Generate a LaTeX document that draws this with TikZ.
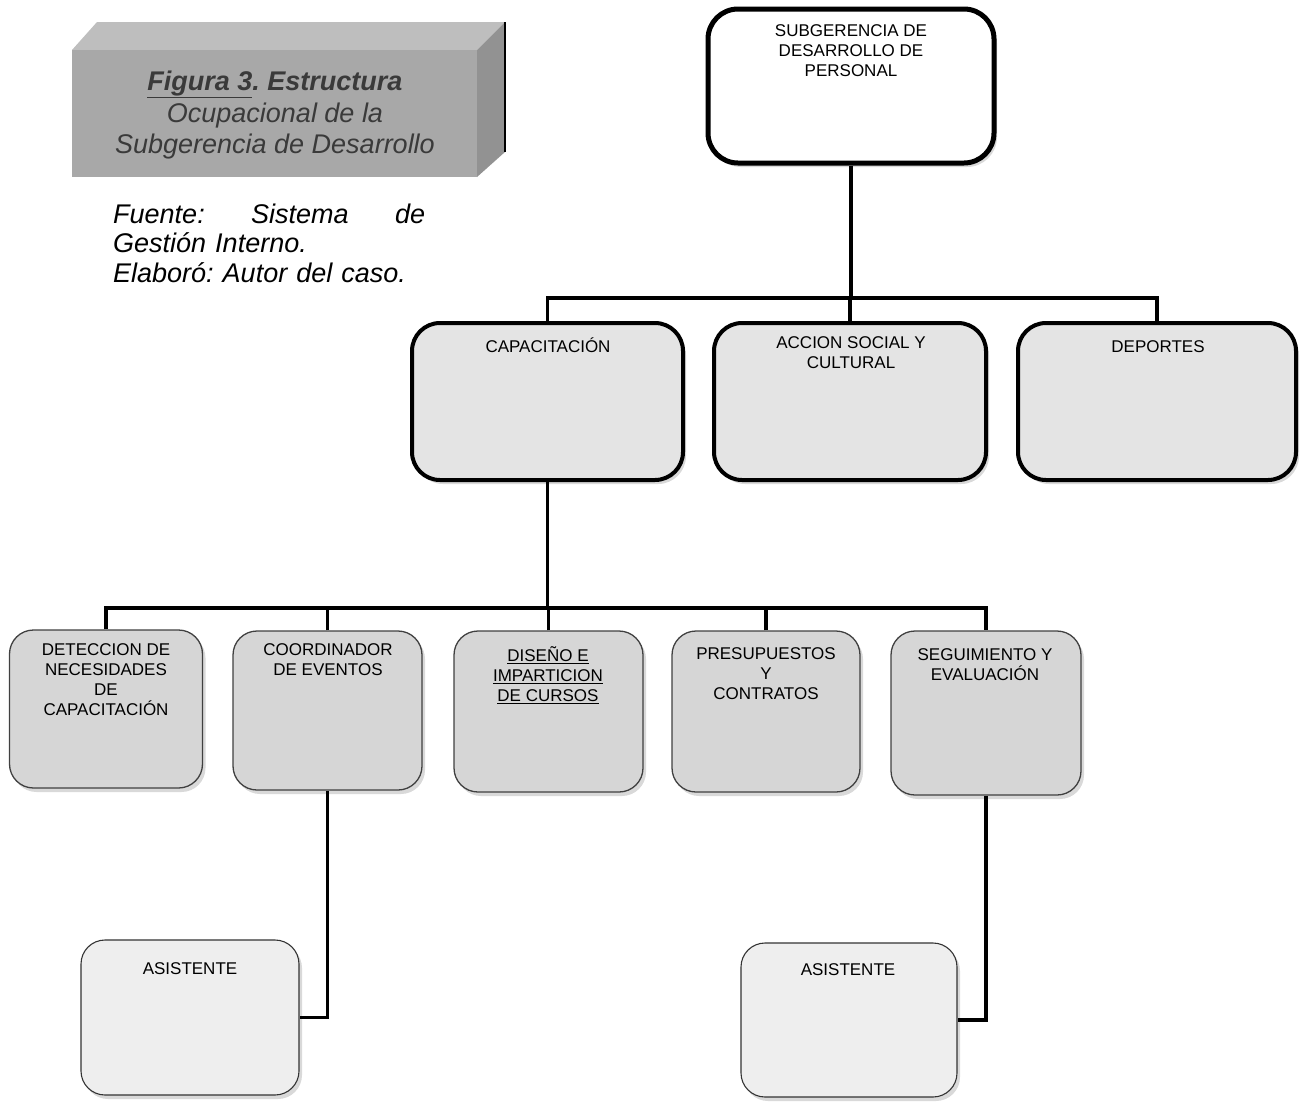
\documentclass[tikz,border=0pt]{standalone}
\usepackage{fontspec}
\setmainfont{Liberation Sans}
\usetikzlibrary{calc,shadows}
\definecolor{midgray}{HTML}{E4E4E4}
\definecolor{lowgray}{HTML}{D6D6D6}
\definecolor{asgray}{HTML}{EEEEEE}
\definecolor{frontgray}{HTML}{A8A8A8}
\definecolor{topgray}{HTML}{BEBEBE}
\definecolor{sidegray}{HTML}{929292}
\definecolor{ttltext}{HTML}{3A3A3A}
\tikzset{
  conn/.style={line width=3.5pt, black},
  lbl/.style={font=\fontsize{17}{20}\selectfont, align=center, inner sep=0pt, anchor=north,
    execute at begin node={\rule{0pt}{16pt}}},
  shad/.style={drop shadow={shadow xshift=3pt, shadow yshift=-4pt, opacity=0.3, fill=gray}},
  topbox/.style={draw, line width=5pt, rounded corners=30pt, fill=white, shad, inner sep=0pt},
  midbox/.style={draw, line width=4pt, rounded corners=28pt, fill=midgray, shad, inner sep=0pt},
  lowbox/.style={draw=black!75, line width=1.3pt, rounded corners=24pt, fill=lowgray, shad, inner sep=0pt},
  asbox/.style={draw=black!80, line width=1.1pt, rounded corners=24pt, fill=asgray, shad, inner sep=0pt},
  ttl/.style={text=ttltext, inner sep=0pt, anchor=base, font=\fontsize{27}{32}\selectfont\itshape},
}
\begin{document}
\frenchspacing
\begin{tikzpicture}[x=1pt,y=-1pt]
\useasboundingbox (0,0) rectangle (1309,1101);

% title block (3D box)
\fill[topgray] (72,50) -- (97,22) -- (505,22) -- (477,50) -- cycle;
\fill[sidegray] (477,50) -- (505,22) -- (505,152) -- (477,177) -- cycle;
\fill[frontgray] (72,50) rectangle (477,177);
\draw[line width=2pt, black] (505,22) -- (505,152);
\node[ttl] (ttl1) at (275,90) {\bfseries\underline{Figura 3}. Estructura};
\node[ttl] (ttl2) at (275,122) {Ocupacional de la};
\node[ttl] (ttl3) at (275,153) {Subgerencia de Desarrollo};

\node[anchor=north west, inner sep=0pt, text width=312pt, align=left,
      font=\fontsize{27}{29.5}\selectfont\itshape] (fte) at (113,202)
  {\noindent\rule{0pt}{21pt}Fuente:\hfill Sistema\hfill de\\Gestión Interno.\\Elaboró: Autor del caso.};

% boxes
\node[topbox, minimum width=286pt, minimum height=154pt] (sub) at (851,86) {};
\node[midbox, minimum width=271pt, minimum height=157pt] (cap) at (547.5,401.5) {};
\node[midbox, minimum width=272pt, minimum height=157pt] (acc) at (850,401.5) {};
\node[midbox, minimum width=278pt, minimum height=157pt] (dep) at (1157,401.5) {};
\node[lowbox, minimum width=193pt, minimum height=158pt] (det) at (106,709) {};
\node[lowbox, minimum width=189pt, minimum height=159pt] (coo) at (327.5,710.5) {};
\node[lowbox, minimum width=189pt, minimum height=161pt] (dis) at (548.5,711.5) {};
\node[lowbox, minimum width=188pt, minimum height=161pt] (pre) at (766,711.5) {};
\node[lowbox, minimum width=190pt, minimum height=164pt] (seg) at (986,713) {};
\node[asbox, minimum width=218pt, minimum height=155pt] (as1) at (190,1017.5) {};
\node[asbox, minimum width=216pt, minimum height=154pt] (as2) at (849,1020) {};

% labels
\node[lbl] (subL) at (851,24) {SUBGERENCIA DE\\DESARROLLO DE\\PERSONAL};
\node[lbl] (capL) at (548,336) {CAPACITACIÓN};
\node[lbl] (accL) at (851,336) {ACCION SOCIAL Y\\CULTURAL};
\node[lbl] (depL) at (1158,336) {DEPORTES};
\node[lbl] (detL) at (106,643) {DETECCION DE\\NECESIDADES\\DE\\CAPACITACIÓN};
\node[lbl] (cooL) at (328,643) {COORDINADOR\\DE EVENTOS};
\node[lbl] (disL) at (548,646) {\underline{DISEÑO E}\\\underline{IMPARTICION}\\\underline{DE CURSOS}};
\node[lbl] (preL) at (766,647) {PRESUPUESTOS\\Y\\CONTRATOS};
\node[lbl] (segL) at (985,648) {SEGUIMIENTO Y\\EVALUACIÓN};
\node[lbl] (as1L) at (190,958) {ASISTENTE};
\node[lbl] (as2L) at (848,959) {ASISTENTE};

% connectors
\coordinate (b1) at (849,298);
\draw[conn] (sub.south) -- (sub.south |- b1);
\draw[conn] (cap.north) |- (b1) -| (dep.north);
\draw[conn] (acc.north) -- (acc.north |- b1);
\coordinate (b2) at (548,608);
\draw[conn] (cap.south) -- (cap.south |- b2);
\draw[conn] (det.north) |- (b2) -| (seg.north);
\draw[conn] (coo.north) -- (coo.north |- b2);
\draw[conn] (dis.north) -- (dis.north |- b2);
\draw[conn] (pre.north) -- (pre.north |- b2);
\draw[conn] (coo.south) |- (as1.east);
\draw[conn] (seg.south) |- (as2.east);
\end{tikzpicture}
\end{document}
